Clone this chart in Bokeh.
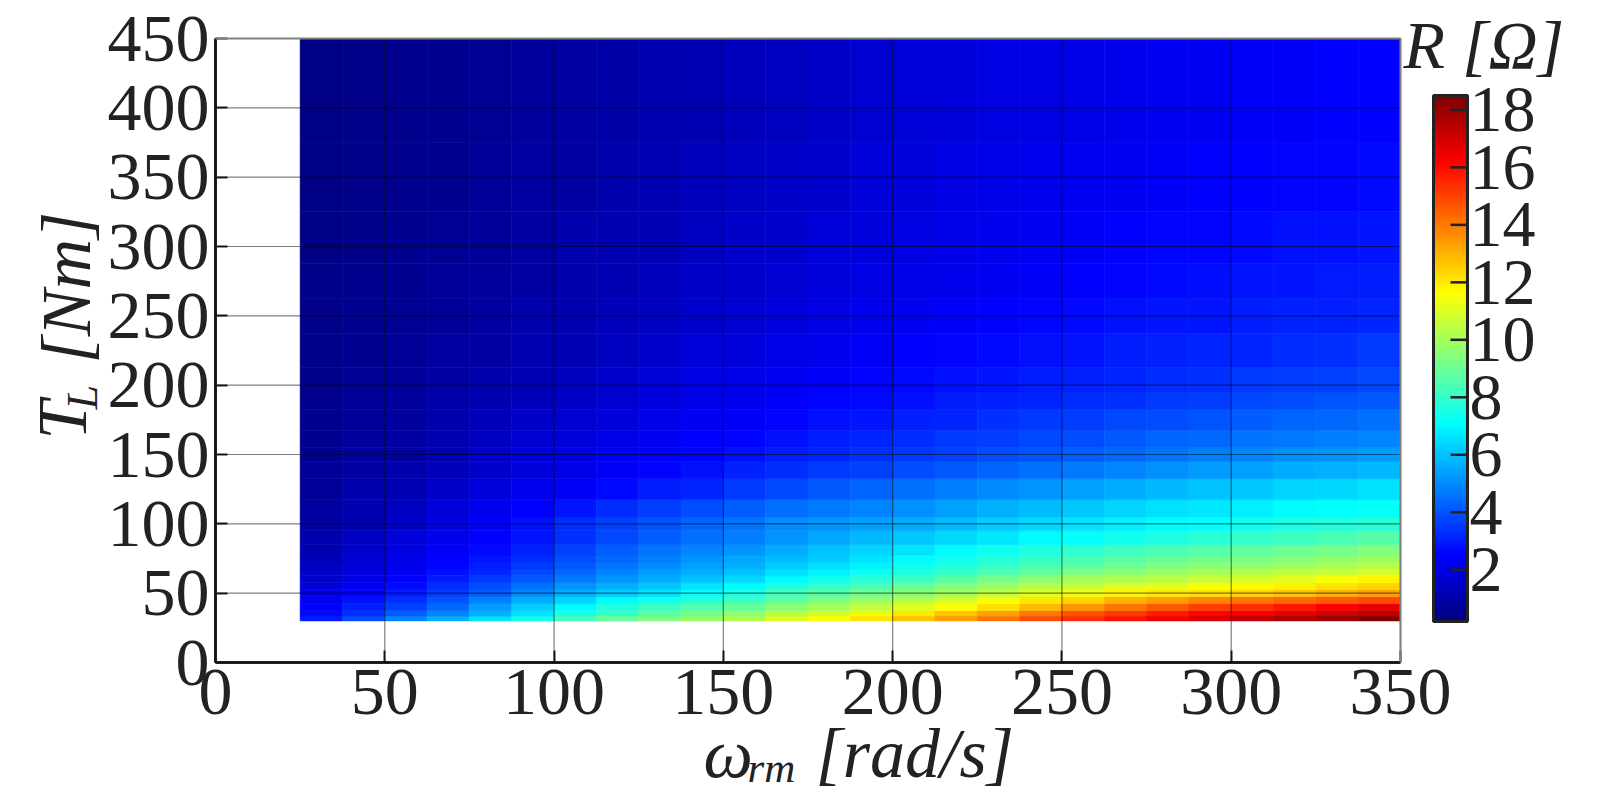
import numpy as np
from bokeh.embed import file_html
from bokeh.models import ColorBar, ColumnDataSource, FixedTicker, Label, LinearColorMapper, Range1d
from bokeh.plotting import figure
from bokeh.resources import INLINE
from bokeh.transform import transform

# Left edge of each heat-map column [rad/s] and bottom edge of each row [Nm]
OMEGA_LEFT = [25, 37.5, 50, 62.5, 75, 87.5, 100, 112.5, 125, 137.5, 150, 162.5, 175,
              187.5, 200, 212.5, 225, 237.5, 250, 262.5, 275, 287.5, 300, 312.5, 325, 337.5]
OMEGA_END = 350
TORQUE_BOTTOM = [30, 33.5, 37.5, 42.5, 47.5, 52.5, 57.5, 62.5, 67.5, 72.5, 77.5, 85, 95, 105, 117.5, 132.5, 145, 155, 167.5, 182.5, 195, 212.5, 237.5, 262.5, 287.5, 325, 375]
TORQUE_END = 450

R30 = [3.0,3.9,4.9,5.7,6.5,7.4,8.3,8.9,9.4,9.8,10.2,11.0,11.6,12.1,12.7,13.4,14.1,14.8,15.4,15.9,16.4,16.9,17.3,17.7,18.0,18.3]
R35 = [2.7,3.4,4.2,4.9,5.7,6.6,7.5,8.1,8.7,9.2,9.6,10.3,10.8,11.4,12.0,12.7,13.3,14.0,14.7,15.2,15.7,16.1,16.4,16.7,17.1,17.4]
R40 = [2.5,3.1,3.7,4.4,5.3,6.2,7.0,7.7,8.2,8.6,8.9,9.6,10.0,10.5,11.0,11.6,12.2,12.9,13.5,14.1,14.6,15.1,15.4,15.8,16.2,16.6]
R45 = [2.3,2.8,3.4,4.0,4.8,5.6,6.3,7.0,7.4,7.8,8.2,8.8,9.3,9.8,10.3,10.9,11.5,12.0,12.4,13.0,13.4,13.8,14.1,14.3,14.6,14.9]
R50 = [2.1,2.5,3.0,3.6,4.2,5.0,5.7,6.2,6.6,7.2,7.6,8.3,8.7,9.1,9.5,10.0,10.5,11.0,11.4,11.8,12.0,12.2,12.4,12.7,13.0,13.3]
R55 = [1.8,2.3,2.7,3.3,3.9,4.5,5.2,5.7,6.1,6.6,7.0,7.6,8.0,8.4,8.9,9.4,9.8,10.3,10.6,11.0,11.2,11.5,11.7,11.9,12.1,12.4]
R60 = [1.6,2.1,2.5,3.0,3.5,4.1,4.7,5.2,5.6,6.0,6.4,7.0,7.4,7.8,8.2,8.7,9.2,9.6,10.0,10.2,10.4,10.7,10.9,11.2,11.5,11.8]
R65 = [1.5,1.9,2.3,2.8,3.2,3.8,4.4,4.9,5.3,5.7,6.0,6.5,6.9,7.3,7.7,8.1,8.5,8.9,9.3,9.6,9.9,10.1,10.3,10.5,10.7,10.9]
R70 = [1.4,1.8,2.2,2.6,3.0,3.5,4.1,4.6,5.0,5.4,5.7,6.2,6.5,6.9,7.3,7.6,8.0,8.4,8.7,9.0,9.3,9.5,9.7,9.9,10.1,10.3]
R75 = [1.2,1.7,2.1,2.5,2.9,3.3,3.9,4.4,4.8,5.2,5.5,5.9,6.2,6.6,7.0,7.3,7.7,8.0,8.3,8.6,8.8,9.0,9.2,9.4,9.6,9.8]
R80 = [1.1,1.6,2.0,2.4,2.7,3.1,3.7,4.2,4.6,4.9,5.2,5.6,6.0,6.3,6.6,7.0,7.3,7.6,7.9,8.2,8.4,8.6,8.8,9.0,9.2,9.4]
R90 = [1.0,1.4,1.8,2.2,2.5,2.9,3.4,3.8,4.2,4.5,4.8,5.2,5.5,5.8,6.1,6.4,6.7,7.0,7.2,7.4,7.6,7.8,8.0,8.2,8.4,8.6]
R100 = [0.9,1.2,1.6,2.0,2.4,2.8,3.3,3.7,4.0,4.3,4.6,5.0,5.2,5.4,5.6,5.9,6.2,6.4,6.6,6.8,7.0,7.1,7.3,7.5,7.7,7.8]
R110 = [0.8,1.1,1.4,1.8,2.2,2.5,2.9,3.3,3.6,3.9,4.2,4.5,4.7,4.9,5.1,5.4,5.7,5.9,6.1,6.3,6.5,6.7,6.8,7.0,7.1,7.2]
R125 = [0.7,1.0,1.2,1.5,1.9,2.2,2.4,2.7,3.0,3.2,3.5,3.8,4.1,4.3,4.5,4.8,5.0,5.2,5.4,5.6,5.8,6.0,6.1,6.3,6.4,6.5]
R140 = [0.65,0.85,1.0,1.3,1.6,1.9,2.1,2.4,2.6,2.8,3.1,3.3,3.5,3.7,3.9,4.1,4.3,4.5,4.7,4.9,5.1,5.3,5.4,5.6,5.7,5.8]
R150 = [0.6,0.8,0.9,1.2,1.5,1.8,2.0,2.3,2.5,2.6,2.8,3.0,3.2,3.4,3.5,3.7,3.9,4.0,4.2,4.4,4.6,4.8,4.9,5.1,5.2,5.3]
R160 = [0.55,0.75,0.9,1.1,1.4,1.7,1.9,2.1,2.3,2.5,2.6,2.8,3.0,3.2,3.3,3.5,3.6,3.8,3.9,4.1,4.3,4.4,4.6,4.7,4.8,4.9]
R175 = [0.5,0.7,0.8,1.0,1.3,1.5,1.7,1.9,2.2,2.3,2.4,2.6,2.8,2.9,3.1,3.2,3.4,3.5,3.6,3.8,3.9,4.0,4.2,4.3,4.4,4.5]
R190 = [0.45,0.65,0.75,0.95,1.1,1.3,1.5,1.7,1.9,2.1,2.2,2.4,2.6,2.7,2.8,3.0,3.1,3.2,3.3,3.4,3.5,3.6,3.8,3.9,4.0,4.1]
R200 = [0.4,0.6,0.7,0.9,1.0,1.2,1.4,1.6,1.8,2.0,2.1,2.3,2.4,2.6,2.7,2.8,2.9,3.0,3.1,3.2,3.3,3.4,3.5,3.6,3.7,3.8]
R225 = [0.4,0.55,0.65,0.8,0.9,1.1,1.2,1.4,1.6,1.8,1.9,2.1,2.2,2.4,2.5,2.6,2.7,2.8,2.9,3.0,3.1,3.2,3.2,3.3,3.4,3.5]
R250 = [0.35,0.5,0.6,0.7,0.8,1.0,1.1,1.3,1.4,1.6,1.7,1.9,2.0,2.2,2.3,2.4,2.5,2.6,2.7,2.8,2.9,2.9,3.0,3.1,3.1,3.2]
R275 = [0.35,0.45,0.55,0.65,0.75,0.9,1.05,1.2,1.3,1.5,1.6,1.75,1.9,2.0,2.1,2.2,2.3,2.4,2.5,2.6,2.7,2.75,2.85,2.9,2.95,3.0]
R300 = [0.3,0.4,0.5,0.6,0.7,0.8,1.0,1.1,1.2,1.4,1.5,1.6,1.8,1.9,2.0,2.1,2.2,2.3,2.4,2.5,2.6,2.6,2.7,2.8,2.8,2.9]
R350 = [0.3,0.4,0.45,0.55,0.65,0.8,0.9,1.0,1.2,1.3,1.4,1.5,1.6,1.8,1.9,2.0,2.1,2.2,2.3,2.3,2.4,2.5,2.5,2.6,2.6,2.7]
R400 = [0.3,0.35,0.45,0.5,0.6,0.75,0.85,0.95,1.1,1.2,1.3,1.4,1.5,1.7,1.8,1.9,2.0,2.0,2.1,2.2,2.3,2.3,2.4,2.4,2.5,2.5]
R_ROWS = [R30, R35, R40, R45, R50, R55, R60, R65, R70, R75, R80, R90, R100, R110, R125, R140, R150, R160,
          R175, R190, R200, R225, R250, R275, R300, R350, R400]

X_TICKS = [0, 50, 100, 150, 200, 250, 300, 350]
Y_TICKS = [0, 50, 100, 150, 200, 250, 300, 350, 400, 450]
CB_TICKS = [2, 4, 6, 8, 10, 12, 14, 16, 18]
R_LOW, R_HIGH = 0.2, 18.5
X_MAX, Y_MAX = 350, 450

INK = "#222222"
SERIF = "Liberation Serif"
FS = "68px"

# The frame fills the canvas so that every text stays inside it; the axes sit at fixed data locations.
W, H = 1590, 800
AX_LEFT, AX_BOTTOM = 215, 662
KX, KY = 1185 / X_MAX, 624 / Y_MAX
CB_LEFT, CB_BOTTOM, CB_W, CB_H = 1433, 621, 34, 526


def jet(n=256):
    f = np.linspace(0, 1, n)
    ch = lambda c: np.clip(1.5 - np.abs(4 * f - c), 0, 1)
    rgb = (np.stack([ch(3), ch(2), ch(1)], axis=1) * 255).round().astype(int)
    return ["#%02x%02x%02x" % tuple(v) for v in rgb]


x_edges = OMEGA_LEFT + [OMEGA_END]
y_edges = TORQUE_BOTTOM + [TORQUE_END]
left, right, bottom, top, value = [], [], [], [], []
for j, row in enumerate(R_ROWS):
    for i, v in enumerate(row):
        left.append(x_edges[i]); right.append(x_edges[i + 1])
        bottom.append(y_edges[j]); top.append(y_edges[j + 1])
        value.append(v)
source = ColumnDataSource(dict(left=left, right=right, bottom=bottom, top=top, value=value))

mapper = LinearColorMapper(palette=jet(), low=R_LOW, high=R_HIGH)

p = figure(width=W, height=H, min_border=0,
           x_range=Range1d(-AX_LEFT / KX, (W - AX_LEFT) / KX),
           y_range=Range1d(-(H - AX_BOTTOM) / KY, AX_BOTTOM / KY),
           output_backend="svg", toolbar_location=None)
p.background_fill_color = "white"
p.border_fill_color = "white"
p.outline_line_color = None
p.grid.visible = False

color = transform("value", mapper)
p.quad(left="left", right="right", bottom="bottom", top="top", source=source,
       fill_color=color, line_color=color, line_width=0.6)

# grid lines (semi-transparent, over the image) and the thin grey top and right edges
p.segment(x0=X_TICKS, x1=X_TICKS, y0=[0] * len(X_TICKS), y1=[Y_MAX] * len(X_TICKS),
          line_color="black", line_alpha=0.5, line_width=1.2, level="overlay")
p.segment(x0=[0] * len(Y_TICKS), x1=[X_MAX] * len(Y_TICKS), y0=Y_TICKS, y1=Y_TICKS,
          line_color="black", line_alpha=0.5, line_width=1.2, level="overlay")
p.line(x=[0, X_MAX, X_MAX], y=[Y_MAX, Y_MAX, 0], line_color="#808080", line_width=2, level="overlay")

for ax, ticks, bounds in ((p.xaxis[0], X_TICKS, (0, X_MAX)), (p.yaxis[0], Y_TICKS, (0, Y_MAX))):
    ax.fixed_location = 0
    ax.bounds = bounds
    ax.ticker = FixedTicker(ticks=ticks)
    ax.axis_line_color = INK
    ax.axis_line_width = 3
    ax.major_tick_line_color = INK
    ax.major_tick_line_width = 2
    ax.major_tick_in = 12
    ax.major_tick_out = 0
    ax.minor_tick_line_color = None
    ax.major_label_text_font = SERIF
    ax.major_label_text_font_size = FS
    ax.major_label_text_color = INK
p.xaxis[0].major_label_standoff = 7
p.yaxis[0].major_label_standoff = 6


def label(text, px, py, size, angle=0.0):
    """Italic text placed by its baseline start, given in page pixels."""
    if angle:
        px -= 0.25 * size
    else:
        py -= 0.25 * size
    p.add_layout(Label(x=px, y=py, x_units="canvas", y_units="canvas", text=text, angle=angle,
                       text_font=SERIF, text_font_style="italic", text_font_size=f"{size}px",
                       text_color=INK, text_align="left", text_baseline="alphabetic"))


label("ω", 703, 770, 70)
label("rm", 747, 778, 43)
label("[rad/s]", 815, 770, 70)
label("T", 79, 439, 70, np.pi / 2)
label("L", 93, 409, 44, np.pi / 2)
label("[Nm]", 83, 363, 70, np.pi / 2)
label("R [Ω]", 1403, 61, 68)

cb = ColorBar(color_mapper=mapper, ticker=FixedTicker(ticks=CB_TICKS), location=(CB_LEFT, H - CB_BOTTOM),
              width=CB_W, height=CB_H, padding=0, margin=0, background_fill_color=None,
              bar_line_color=INK, bar_line_width=3, major_tick_line_color=None,
              major_tick_in=0, major_tick_out=0, minor_tick_line_color=None, label_standoff=2,
              major_label_text_font=SERIF, major_label_text_font_size="66px", major_label_text_color=INK,
              border_line_color=None, level="guide")
p.add_layout(cb)

# The colour bar would hide inward ticks of its own, so they are drawn above it from CB_TICKS.
cb_tick_y = [(AX_BOTTOM - CB_BOTTOM + (t - R_LOW) / (R_HIGH - R_LOW) * CB_H) / KY for t in CB_TICKS]
cb_x0 = (CB_LEFT + CB_W - 17 - AX_LEFT) / KX
cb_x1 = (CB_LEFT + CB_W - AX_LEFT) / KX
p.segment(x0=[cb_x0] * len(CB_TICKS), x1=[cb_x1] * len(CB_TICKS), y0=cb_tick_y, y1=cb_tick_y,
          line_color=INK, line_width=2.5, level="overlay")

open("out.html", "w").write(file_html(p, INLINE))
